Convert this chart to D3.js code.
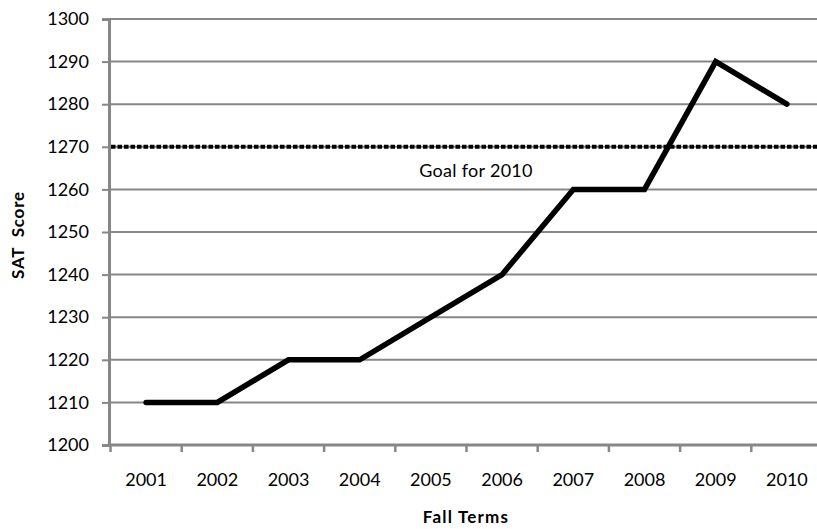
<!DOCTYPE html>
<html><head><meta charset="utf-8">
<script src="https://cdn.jsdelivr.net/npm/d3@7"></script>
<style>
html,body{margin:0;padding:0;background:#fff;}
svg{display:block;font-family:Lato,"Open Sans",sans-serif;}
</style></head>
<body><svg id="c" width="817" height="529"></svg>
<script>
const years = ["2001","2002","2003","2004","2005","2006","2007","2008","2009","2010"];
const satScores = [1210,1210,1220,1220,1230,1240,1260,1260,1290,1280];
const goalValue = 1270;
const goalLabel = "Goal for 2010";
const yTicks = [1200,1210,1220,1230,1240,1250,1260,1270,1280,1290,1300];

const svg = d3.select("#c");
const axisX0 = 109, plotTop = 19, plotBottom = 445;
const x = d3.scaleBand().domain(years).range([110.5, 822.5]).padding(0);
const y = d3.scaleLinear().domain([1200,1300]).range([plotBottom, plotTop]);
const grey = "#878787";

// gridlines
svg.append("g").selectAll("line").data(yTicks.slice(1)).join("line")
  .attr("x1", axisX0).attr("x2", 817)
  .attr("y1", d => y(d)).attr("y2", d => y(d))
  .attr("stroke", grey).attr("stroke-width", 2);

// y axis
const yAxis = svg.append("g").attr("transform", `translate(${axisX0},0)`)
  .call(d3.axisLeft(y).tickValues(yTicks).tickSize(7).tickPadding(13).tickFormat(d3.format("d")));
yAxis.select(".domain").attr("stroke", grey).attr("stroke-width", 3);
yAxis.selectAll(".tick line").attr("stroke", grey).attr("stroke-width", 2);
yAxis.selectAll("text").attr("font-size", 18).attr("fill", "#000")
  .attr("font-family", "Lato, sans-serif");

// x axis
const xAxis = svg.append("g").attr("transform", `translate(0,${plotBottom})`)
  .call(d3.axisBottom(x).tickSize(0).tickPadding(28));
xAxis.select(".domain").remove();
xAxis.selectAll("text").attr("font-size", 18).attr("fill", "#000")
  .attr("font-family", "Lato, sans-serif");
svg.append("line").attr("x1", axisX0 - 1.5).attr("x2", 817)
  .attr("y1", plotBottom).attr("y2", plotBottom).attr("stroke", grey).attr("stroke-width", 3);
// x tick marks at band boundaries
svg.append("g").selectAll("line").data(years).join("line")
  .attr("x1", d => x(d)).attr("x2", d => x(d))
  .attr("y1", plotBottom).attr("y2", plotBottom + 7)
  .attr("stroke", grey).attr("stroke-width", 2.5);

// goal line
svg.append("line").attr("x1", axisX0 + 2).attr("x2", 817)
  .attr("y1", y(goalValue)).attr("y2", y(goalValue))
  .attr("stroke", "#000").attr("stroke-width", 4).attr("stroke-dasharray", "4.5,2");
svg.append("text").attr("x", 476).attr("y", y(goalValue) + 30)
  .attr("text-anchor", "middle").attr("font-size", 18).attr("letter-spacing", 0.3).text(goalLabel);

// data line
const line = d3.line().x((d,i) => x(years[i]) + x.bandwidth()/2).y(d => y(d));
svg.append("path").datum(satScores).attr("d", line)
  .attr("fill", "none").attr("stroke", "#000").attr("stroke-width", 5.5)
  .attr("stroke-linejoin", "miter").attr("stroke-linecap", "round");

// axis titles
svg.append("text").attr("transform", "translate(24,235) rotate(-90)")
  .attr("text-anchor", "middle").attr("font-size", 17).attr("font-weight", "bold")
  .attr("letter-spacing", 0.8).style("white-space", "pre").text("SAT  Score");
svg.append("text").attr("x", 466).attr("y", 523)
  .attr("text-anchor", "middle").attr("font-size", 17).attr("font-weight", "bold")
  .attr("letter-spacing", 1.2).text("Fall Terms");
</script></body></html>
